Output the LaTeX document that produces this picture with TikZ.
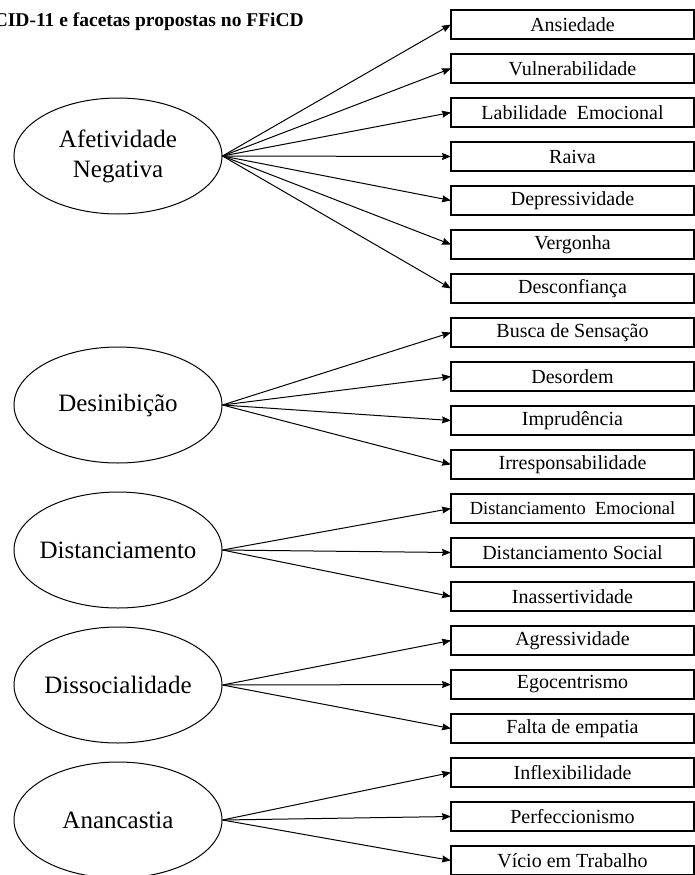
\documentclass[tikz,border=0pt]{standalone}
\usepackage{fontspec}
\setmainfont{Liberation Serif}
\usetikzlibrary{arrows.meta, positioning, shapes.geometric}

\begin{document}
\begin{tikzpicture}[
    x=1pt, y=-1pt,
    node distance=15pt,
    facet/.style={
        rectangle, draw, line width=1.2pt, outer sep=0pt, inner sep=0pt,
        minimum width=243pt, minimum height=29pt,
        font=\fontsize{20}{24}\selectfont
    },
    trait/.style={
        ellipse, draw, line width=1pt, inner xsep=-8pt, inner ysep=0pt,
        minimum width=208pt, minimum height=116pt, align=center,
        font=\fontsize{25}{30}\selectfont
    },
    >={Stealth[length=9pt, width=7pt, inset=1pt]},
    line width=1pt
]
\useasboundingbox (0,0) rectangle (695,875);

\node[anchor=base west, font=\fontsize{19.5}{22}\selectfont\bfseries] (titulo) at (-10,27) {CID-11 e facetas propostas no FFiCD};

\node[trait] (afetividade) at (118,156) {Afetividade\\Negativa};
\node[trait] (desinibicao) at (118,405) {Desinibição};
\node[trait] (distanciamento) at (118,550) {Distanciamento};
\node[trait] (dissocialidade) at (118,685) {Dissocialidade};
\node[trait] (anancastia) at (118,820) {Anancastia};

\node[facet] (ansiedade) at (572.5,24.5) {Ansiedade};
\node[facet, below=of ansiedade] (vulner) {Vulnerabilidade};
\node[facet, below=of vulner] (labilidade) {Labilidade\ \ Emocional};
\node[facet, below=of labilidade] (raiva) {Raiva};
\node[facet, below=of raiva] (depress) {Depressividade};
\node[facet, below=of depress] (vergonha) {Vergonha};
\node[facet, below=of vergonha] (desconf) {Desconfiança};
\node[facet, below=of desconf] (busca) {Busca de Sensação};
\node[facet, below=of busca] (desordem) {Desordem};
\node[facet, below=of desordem] (imprud) {Imprudência};
\node[facet, below=of imprud] (irresp) {Irresponsabilidade};
\node[facet, below=of irresp, font=\fontsize{18.5}{22}\selectfont] (distemo) {Distanciamento\ \ Emocional};
\node[facet, below=of distemo] (distsoc) {Distanciamento Social};
\node[facet, below=of distsoc] (inassert) {Inassertividade};
\node[facet, below=of inassert] (agress) {Agressividade};
\node[facet, below=of agress] (egocent) {Egocentrismo};
\node[facet, below=of egocent] (empatia) {Falta de empatia};
\node[facet, below=of empatia] (inflex) {Inflexibilidade};
\node[facet, below=of inflex] (perfec) {Perfeccionismo};
\node[facet, below=of perfec] (vicio) {Vício em Trabalho};

\draw[->] (afetividade.east) -- (ansiedade.west);
\draw[->] (afetividade.east) -- (vulner.west);
\draw[->] (afetividade.east) -- (labilidade.west);
\draw[->] (afetividade.east) -- (raiva.west);
\draw[->] (afetividade.east) -- (depress.west);
\draw[->] (afetividade.east) -- (vergonha.west);
\draw[->] (afetividade.east) -- (desconf.west);

\draw[->] (desinibicao.east) -- (busca.west);
\draw[->] (desinibicao.east) -- (desordem.west);
\draw[->] (desinibicao.east) -- (imprud.west);
\draw[->] (desinibicao.east) -- (irresp.west);

\draw[->] (distanciamento.east) -- (distemo.west);
\draw[->] (distanciamento.east) -- (distsoc.west);
\draw[->] (distanciamento.east) -- (inassert.west);

\draw[->] (dissocialidade.east) -- (agress.west);
\draw[->] (dissocialidade.east) -- (egocent.west);
\draw[->] (dissocialidade.east) -- (empatia.west);

\draw[->] (anancastia.east) -- (inflex.west);
\draw[->] (anancastia.east) -- (perfec.west);
\draw[->] (anancastia.east) -- (vicio.west);

\end{tikzpicture}
\end{document}
